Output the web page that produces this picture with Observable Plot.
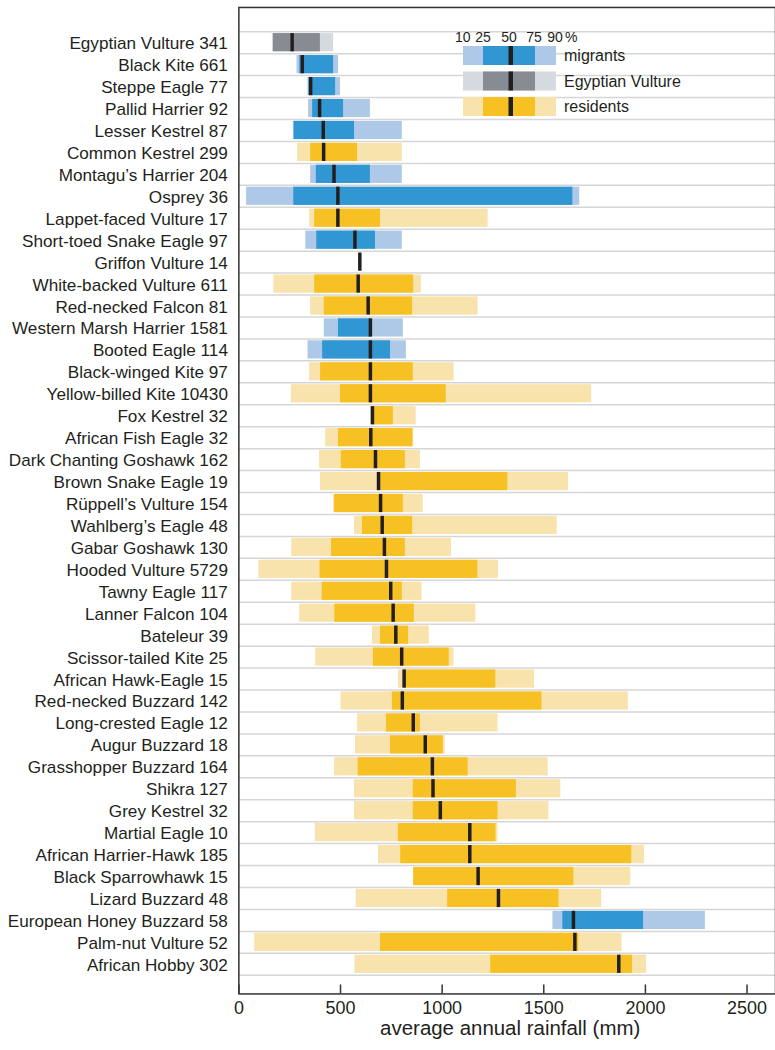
<!DOCTYPE html>
<html><head><meta charset="utf-8">
<script src="https://cdn.jsdelivr.net/npm/d3@7"></script>
<script src="https://cdn.jsdelivr.net/npm/@observablehq/plot@0.6"></script>
<style>
html,body{margin:0;padding:0;background:#fff;overflow:hidden}
#wrap{position:relative;width:775px;height:1050px;overflow:hidden}
</style></head><body><div id="wrap"></div>
<script>
const species = ["Egyptian Vulture","Black Kite","Steppe Eagle","Pallid Harrier","Lesser Kestrel","Common Kestrel","Montagu’s Harrier","Osprey","Lappet-faced Vulture","Short-toed Snake Eagle","Griffon Vulture","White-backed Vulture","Red-necked Falcon","Western Marsh Harrier","Booted Eagle","Black-winged Kite","Yellow-billed Kite","Fox Kestrel","African Fish Eagle","Dark Chanting Goshawk","Brown Snake Eagle","Rüppell’s Vulture","Wahlberg’s Eagle","Gabar Goshawk","Hooded Vulture","Tawny Eagle","Lanner Falcon","Bateleur","Scissor-tailed Kite","African Hawk-Eagle","Red-necked Buzzard","Long-crested Eagle","Augur Buzzard","Grasshopper Buzzard","Shikra","Grey Kestrel","Martial Eagle","African Harrier-Hawk","Black Sparrowhawk","Lizard Buzzard","European Honey Buzzard","Palm-nut Vulture","African Hobby"];
const counts = [341,661,77,92,87,299,204,36,17,97,14,611,81,1581,114,97,10430,32,32,162,19,154,48,130,5729,117,104,39,25,15,142,12,18,164,127,32,10,185,15,48,58,52,302];
const groups = ["EV","M","M","M","M","R","M","M","R","M","M","R","R","M","M","R","R","R","R","R","R","R","R","R","R","R","R","R","R","R","R","R","R","R","R","R","R","R","R","R","M","R","R"];
const p10 = [165,286,340,343,268,289,353,38,348,329,595,172,353,420,340,348,258,650,427,397,402,466,569,260,98,260,299,657,378,785,502,584,574,471,569,569,376,687,860,577,1545,78,571];
const p25 = [170,300,345,363,272,353,381,270,373,383,595,373,420,490,412,402,500,655,490,504,683,471,608,456,399,410,472,697,662,810,755,726,746,587,858,858,785,796,860,1027,1594,697,1239];
const p50 = [262,312,353,397,415,417,468,487,487,571,595,587,636,647,647,647,647,657,649,672,687,697,705,716,726,747,759,772,801,813,804,858,917,952,955,991,1136,1136,1177,1277,1646,1653,1869];
const p75 = [401,466,476,515,569,584,647,1643,697,672,595,860,855,652,746,858,1020,760,856,819,1323,809,855,819,1176,804,863,835,1035,1264,1491,893,1006,1128,1365,1275,1265,1933,1648,1575,1991,1672,1937];
const p90 = [466,490,500,647,804,804,804,1677,1226,804,595,898,1177,809,824,1059,1736,872,860,893,1622,907,1566,1046,1277,901,1166,937,1058,1455,1916,1275,1015,1522,1584,1525,1275,1996,1928,1785,2295,1885,2006];
const xTicks = [0,500,1000,1500,2000,2500];
const groupKeys = ["M","EV","R"];
const groupNames = ["migrants","Egyptian Vulture","residents"];
const lightColors = ["#aec9e7","#d5d9e0","#f9e3ac"];
const darkColors = ["#3197d3","#878c92","#f7c124"];
const legendPct = ["10","25","50","75","90"];
const xTitle = "average annual rainfall (mm)";

const light = Object.fromEntries(groupKeys.map((k,i)=>[k, lightColors[i]]));
const dark = Object.fromEntries(groupKeys.map((k,i)=>[k, darkColors[i]]));
const labels = species.map((s,i)=>`${s} ${counts[i]}`);
const data = species.map((s,i)=>({label: labels[i], group: groups[i], p10: p10[i], p25: p25[i], p50: p50[i], p75: p75[i], p90: p90[i]}));

const FONT = "'Liberation Sans', Arial, Helvetica, sans-serif";
const W = 777, H = 1050, mL = 239, mT = 7, mB = 54;
const bandTop = 31.3, bandBottom = 977.3;
const step = (bandBottom - bandTop) / labels.length;
const innerH = H - mT - mB;

const chart = Plot.plot({
  width: W, height: H,
  marginLeft: mL, marginRight: 0, marginTop: mT, marginBottom: mB,
  style: {fontFamily: FONT, background: "white", color: "#231f20"},
  x: {domain: [0, 2640]},
  y: {domain: labels, range: [bandTop, bandBottom], paddingInner: 0.17, paddingOuter: 0.085, round: false},
  marks: [
    Plot.ruleY(labels, {y: d => d, dy: -step/2, stroke: "#d6d6d6", strokeWidth: 1.5}),
    Plot.ruleY([labels[labels.length-1]], {y: d => d, dy: step/2, stroke: "#d6d6d6", strokeWidth: 1.5}),
    Plot.barX(data, {y: "label", x1: "p10", x2: "p90", fill: d => light[d.group]}),
    Plot.barX(data, {y: "label", x1: "p25", x2: "p75", fill: d => dark[d.group]}),
    Plot.tickX(data, {y: "label", x: "p50", stroke: "#231f20", strokeWidth: 3.5}),
    Plot.ruleX(xTicks, {x: d => d, insetTop: innerH - 9, stroke: "#333", strokeWidth: 1.5}),
    Plot.frame({stroke: "#333", strokeWidth: 1.5}),
    Plot.axisY({tickSize: 0, tickPadding: 11, fontSize: 17.2, dy: 1, label: null}),
    Plot.axisX({ticks: xTicks, tickFormat: d => String(d), tickSize: 0, tickPadding: 7, fontSize: 18, label: null}),
    Plot.text([xTitle], {text: d => d, frameAnchor: "bottom", dy: 41, dx: 3, fontSize: 20.5})
  ]
});
const wrap = document.getElementById("wrap");
wrap.appendChild(chart);

// legend overlay
const lg = d3.create("svg").attr("width", 775).attr("height", 130)
  .style("position", "absolute").style("left", "0px").style("top", "0px")
  .style("font-family", FONT);
const pctX = [462.7, 483, 509, 534, 555];
lg.selectAll("text.pct").data(legendPct).join("text").attr("class","pct")
  .attr("x", (d,i) => pctX[i]).attr("y", 41.5).attr("text-anchor", "middle")
  .attr("font-size", 14).attr("fill", "#231f20").text(d => d);
lg.append("text").attr("x", 565).attr("y", 41.5).attr("font-size", 14).attr("fill", "#231f20").text("%");
const rowTop = [46, 71.5, 97];
groupNames.forEach((g, i) => {
  const t = rowTop[i];
  lg.append("rect").attr("x", 463).attr("y", t).attr("width", 93).attr("height", 19).attr("fill", lightColors[i]);
  lg.append("rect").attr("x", 483).attr("y", t).attr("width", 52).attr("height", 19).attr("fill", darkColors[i]);
  lg.append("rect").attr("x", 508.5).attr("y", t).attr("width", 4.5).attr("height", 19).attr("fill", "#231f20");
  lg.append("text").attr("x", 564).attr("y", t + 15).attr("font-size", 16).attr("fill", "#231f20").text(g);
});
wrap.appendChild(lg.node());
</script></body></html>
